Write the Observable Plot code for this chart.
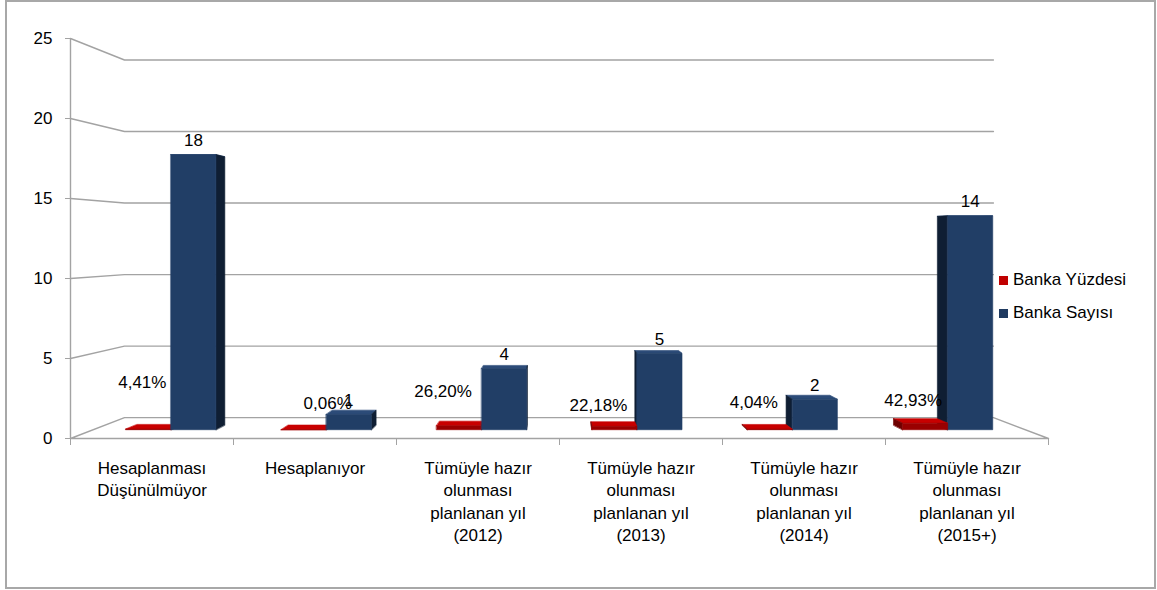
<!DOCTYPE html>
<html>
<head>
<meta charset="utf-8">
<script src="https://cdn.jsdelivr.net/npm/d3@7"></script>
<script src="https://cdn.jsdelivr.net/npm/@observablehq/plot@0.6"></script>
<style>
  body { margin: 0; background: #fff; font-family: "Liberation Sans", Arial, sans-serif; }
  #wrap { position: relative; width: 1157px; height: 590px; }
  #border { position: absolute; left: 5px; top: 0; width: 1151px; height: 589px; border: 2px solid #a8a8a8; box-sizing: border-box; pointer-events: none; }
  .key { position: absolute; left: 999px; font-size: 17px; line-height: 20px; color: #000; white-space: nowrap; }
  .key i { position: absolute; left: 0; top: 6px; width: 9px; height: 9px; }
  .key span { position: absolute; left: 14px; top: 0; }
</style>
</head>
<body>
<div id="wrap">
  <div id="chart"></div>
  <div id="border"></div>
  <div id="legend"></div>
</div>
<script>
// Categories (x-axis labels, already broken into lines)
const categories = [
  "Hesaplanması\nDüşünülmüyor",
  "Hesaplanıyor",
  "Tümüyle hazır\nolunması\nplanlanan yıl\n(2012)",
  "Tümüyle hazır\nolunması\nplanlanan yıl\n(2013)",
  "Tümüyle hazır\nolunması\nplanlanan yıl\n(2014)",
  "Tümüyle hazır\nolunması\nplanlanan yıl\n(2015+)"
];
// Series values
const bankaYuzdesi = [0.0441, 0.0006, 0.2620, 0.2218, 0.0404, 0.4293];
const bankaSayisi = [18, 1, 4, 5, 2, 14];
const seriesNames = ["Banka Yüzdesi", "Banka Sayısı"];
const yTicks = [0, 5, 10, 15, 20, 25];

// Colours per series: [top, front, side]
const palette = [
  { key: "#c00000", top: "#c80000", front: "#9a0000", side: "#6e0000" },
  { key: "#1f3a60", top: "#2c4b78", front: "#213e66", side: "#0f1e33" }
];

// Perspective of the 3-D floor: depth 0 is the front edge, 1 the back wall.
const CX = 2.971, CY = 12.31;          // vanishing point in data units
const SHRINK_X = 0.1115, SHRINK_Y = 0.106;
const ROW_FRONT = 0.42, ROW_BACK = 0.645; // depth occupied by the bars
const GAP = 0.21, SLOT = 0.29;          // bar placement inside each category

function proj(u, v, d) {
  const kx = 1 - SHRINK_X * d, ky = 1 - SHRINK_Y * d;
  return { x: CX + kx * (u - CX), y: CY + ky * (v - CY) };
}

// Build the faces of every 3-D column
const bars = [];
categories.forEach((c, i) => {
  [bankaYuzdesi[i], bankaSayisi[i]].forEach((v, s) => {
    const u0 = i + GAP + SLOT * s, u1 = u0 + SLOT;
    bars.push({ i, s, v, u0, u1, dist: Math.abs((u0 + u1) / 2 - CX) });
  });
});
// paint columns far from the vanishing point first so nearer ones overlap them
bars.sort((a, b) => b.dist - a.dist);

const faces = [];
let fid = 0;
function face(pts, fill) {
  const id = fid++;
  pts.forEach(([u, v, d]) => faces.push({ id, fill, ...proj(u, v, d) }));
}
for (const b of bars) {
  const col = palette[b.s];
  const { u0, u1, v } = b;
  const f = ROW_FRONT, k = ROW_BACK;
  face([[u0, v, f], [u1, v, f], [u1, v, k], [u0, v, k]], col.top);
  if (u1 < CX) face([[u1, 0, f], [u1, v, f], [u1, v, k], [u1, 0, k]], col.side);
  if (u0 > CX) face([[u0, 0, f], [u0, v, f], [u0, v, k], [u0, 0, k]], col.side);
  face([[u0, 0, f], [u1, 0, f], [u1, v, f], [u0, v, f]], col.front);
}

// Gridlines running from the value axis onto the back wall, plus the floor outline
const grid = [];
yTicks.filter(t => t > 0).forEach(t => {
  [[0, t, 0], [0, t, 1], [6, t, 1]].forEach(([u, v, d]) => grid.push({ t, ...proj(u, v, d) }));
});
[[0, 0, 0], [0, 0, 1], [6, 0, 1], [6, 0, 0], [0, 0, 0]].forEach(([u, v, d]) => grid.push({ t: 0, ...proj(u, v, d) }));

const pctFormat = d3.formatLocale({ decimal: ",", thousands: ".", grouping: [3], currency: ["", ""], percent: "%" }).format(".2%");

// hand-placed percentage labels (pixel nudges from the top of each red column)
const pctLabelNudge = [[-6, -47], [24, -26], [-16, -34], [-16, -21], [-16, -27], [-12, -23]];

const FS = 17;
const pctLabels = bankaYuzdesi.map((v, i) => {
  const p = proj(i + GAP + SLOT / 2, v, ROW_FRONT);
  return Plot.text([p], {
    x: "x", y: "y", text: () => pctFormat(v),
    dx: pctLabelNudge[i][0], dy: pctLabelNudge[i][1],
    fontSize: FS, fill: "#000", lineAnchor: "middle"
  });
});

const countLabels = Plot.text(bankaSayisi.map((v, i) => ({ v, ...proj(i + GAP + SLOT * 1.5, v, ROW_FRONT) })), {
  x: "x", y: "y", text: "v", dy: -14, fontSize: FS, fill: "#000", lineAnchor: "middle"
});

const chart = Plot.plot({
  width: 1157,
  height: 590,
  marginLeft: 70,
  marginRight: 109,
  marginTop: 38,
  marginBottom: 152,
  style: { fontFamily: "'Liberation Sans', Arial, sans-serif", fontSize: "17px", background: "transparent", color: "#000" },
  x: { domain: [0, 6] },
  y: { domain: [0, 25] },
  color: { type: "identity" },
  marks: [
    Plot.line(grid, { x: "x", y: "y", z: "t", stroke: "#a3a3a3", strokeWidth: 1.4 }),
    Plot.ruleX([0], { y1: 0, y2: 25, stroke: "#a3a3a3", strokeWidth: 1.4 }),
    Plot.axisY({ ticks: yTicks, tickSize: 5, tickFormat: () => "", color: "#a3a3a3", label: null }),
    Plot.axisY({ ticks: yTicks, tickSize: 0, tickPadding: 18, fontSize: FS, color: "#000", label: null }),
    Plot.axisX({ ticks: d3.range(categories.length + 1), tickSize: 7, tickFormat: () => "", color: "#a3a3a3", label: null }),
    Plot.axisX({
      ticks: categories.map((_, i) => i + 0.5),
      tickFormat: t => categories[Math.floor(t)],
      tickSize: 0, tickPadding: 19, fontSize: FS, lineHeight: 1.33, color: "#000", label: null
    }),
    Plot.line(faces, { x: "x", y: "y", z: "id", fill: "fill", stroke: "fill", strokeWidth: 0.6, curve: "linear-closed" }),
    ...pctLabels,
    countLabels
  ]
});
document.getElementById("chart").append(chart);

// Legend
const legend = document.getElementById("legend");
seriesNames.forEach((name, s) => {
  const row = document.createElement("div");
  row.className = "key";
  row.style.top = (270 + 33 * s) + "px";
  const sw = document.createElement("i");
  sw.style.background = palette[s].key;
  const label = document.createElement("span");
  label.textContent = name;
  row.append(sw, label);
  legend.append(row);
});
</script>
</body>
</html>
